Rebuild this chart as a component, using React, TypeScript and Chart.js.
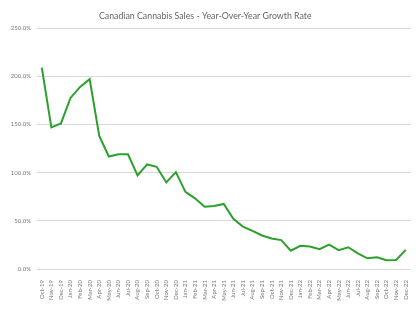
import React, { useEffect, useRef } from "react";
import { Chart, registerables } from "chart.js";

Chart.register(...registerables);

const categories: string[] = [
  "Oct-19", "Nov-19", "Dec-19",
  "Jan-20", "Feb-20", "Mar-20", "Apr-20", "May-20", "Jun-20", "Jul-20", "Aug-20", "Sep-20", "Oct-20", "Nov-20", "Dec-20",
  "Jan-21", "Feb-21", "Mar-21", "Apr-21", "May-21", "Jun-21", "Jul-21", "Aug-21", "Sep-21", "Oct-21", "Nov-21", "Dec-21",
  "Jan-22", "Feb-22", "Mar-22", "Apr-22", "May-22", "Jun-22", "Jul-22", "Aug-22", "Sep-22", "Oct-22", "Nov-22", "Dec-22",
];

const growthRate: number[] = [
  209, 147, 151,
  177.5, 189, 197, 138, 116.7, 119, 119, 97, 108.5, 106, 89.8, 100.5,
  80, 73.3, 64.6, 65.3, 67.5, 52, 44, 39.6, 34.8, 31.6, 30, 19,
  24, 23.3, 20.5, 25.4, 19.5, 22.6, 16.3, 11.1, 12.2, 9, 9.4, 19.8,
];

const yTicks = { min: 0, max: 250, step: 50 };
const title = "Canadian Cannabis Sales - Year-Over-Year Growth Rate";

export default function App() {
  const canvasRef = useRef<HTMLCanvasElement | null>(null);

  useEffect(() => {
    document.body.style.margin = "0";
    const canvas = canvasRef.current;
    if (!canvas) return;
    const chart = new Chart(canvas, {
      type: "line",
      data: {
        labels: categories,
        datasets: [
          {
            data: growthRate,
            borderColor: "#2ca02c",
            backgroundColor: "#2ca02c",
            borderWidth: 2,
            pointRadius: 0,
            tension: 0,
          },
        ],
      },
      options: {
        animation: false,
        responsive: false,
        layout: { padding: { left: 0, right: 9.5, top: 0, bottom: 0 } },
        plugins: {
          legend: { display: false },
          tooltip: { enabled: false },
          title: {
            display: true,
            text: title,
            color: "#666666",
            font: { family: "Lato, 'Open Sans', sans-serif", size: 8.8, weight: "normal" },
            padding: { top: 10.5, bottom: 7 },
          },
        },
        scales: {
          x: {
            offset: true,
            grid: { display: false },
            border: { display: false },
            ticks: {
              autoSkip: false,
              minRotation: 90,
              maxRotation: 90,
              color: "#777777",
              font: { family: "Lato, 'Open Sans', sans-serif", size: 6 },
              padding: 3,
            },
            afterFit: (axis: any) => {
              axis.height = 53;
            },
          },
          y: {
            min: yTicks.min,
            max: yTicks.max,
            grid: { color: "#d9d9d9", lineWidth: 1, drawTicks: false },
            border: { display: false },
            ticks: {
              stepSize: yTicks.step,
              color: "#777777",
              font: { family: "Lato, 'Open Sans', sans-serif", size: 6 },
              padding: 6,
              callback: (v: any) => Number(v).toFixed(1) + "%",
            },
            afterFit: (axis: any) => {
              axis.width = 37;
            },
          },
        },
      },
    });
    return () => chart.destroy();
  }, []);

  return (
    <div style={{ width: 420, height: 322, background: "#fff" }}>
      <canvas ref={canvasRef} width={420} height={322} />
    </div>
  );
}
